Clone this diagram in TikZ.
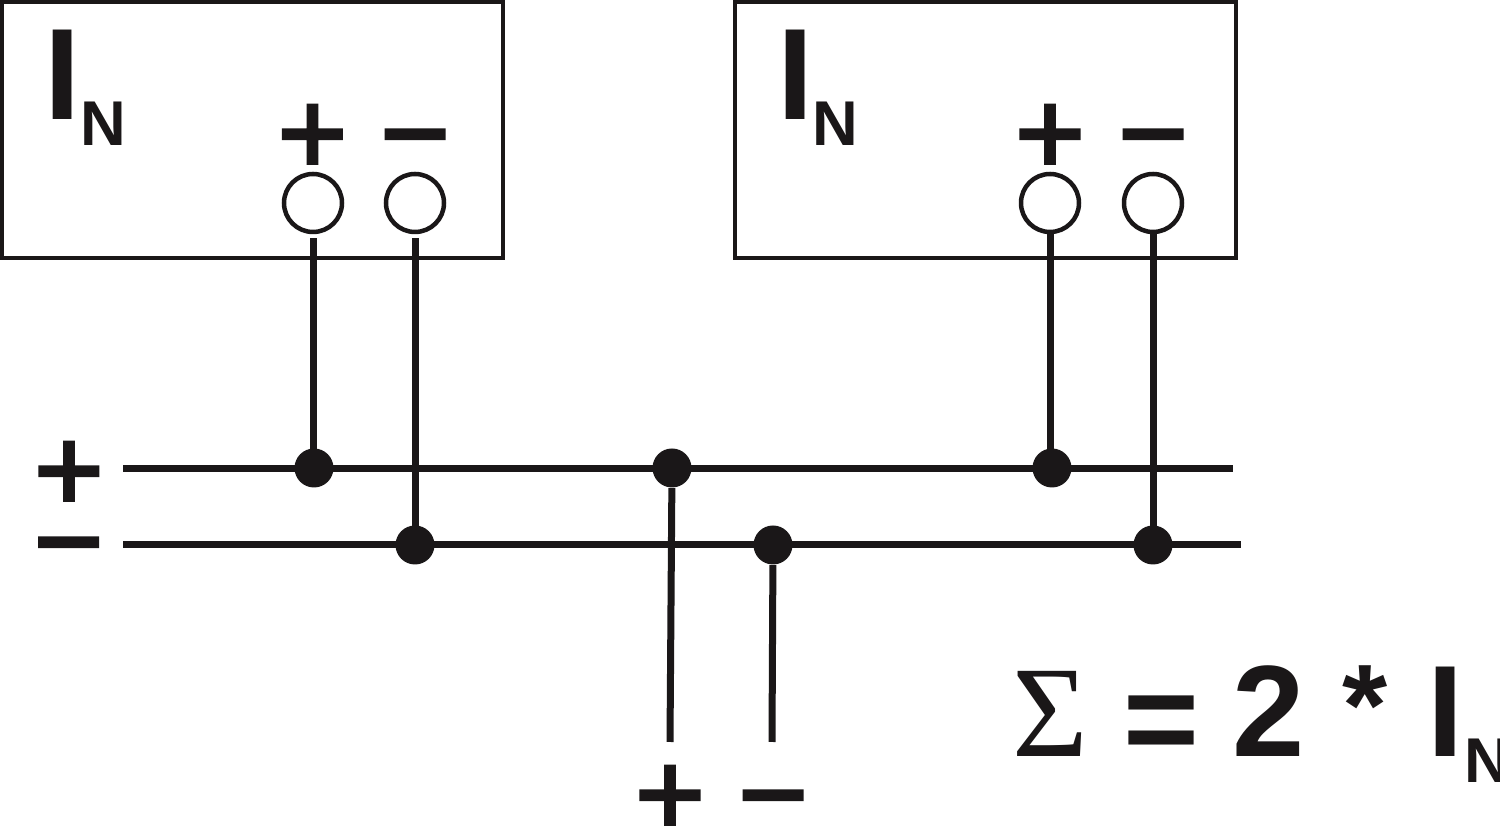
\documentclass[tikz,border=0pt]{standalone}
\usepackage{fontspec}
\setmainfont{Liberation Sans}
\newfontfamily\sigmafont{Liberation Serif}
\newfontfamily\polfont[FakeBold=2.5]{Liberation Sans}

\tikzset{
	geraet/.style={draw=schwarz,line width=0.04cm,minimum width=5.01cm,
		minimum height=2.56cm,inner sep=0},
	klemme/.style={circle,draw=schwarz,fill=white,line width=0.045cm,
		minimum size=0.58cm,inner sep=0},
	punkt/.style={circle,fill=schwarz,minimum size=0.39cm,inner sep=0},
	leitung/.style={draw=schwarz,line width=0.07cm},
	zeichen/.style={color=schwarz,inner sep=0,anchor=base,
		font=\fontsize{37}{37}\selectfont\bfseries},
	pol/.style={color=schwarz,inner sep=0,anchor=base,
		font=\fontsize{34}{34}\selectfont\polfont},
	klein/.style={color=schwarz,inner sep=0,anchor=base,
		font=\fontsize{18}{18}\selectfont\bfseries},
}
\definecolor{schwarz}{HTML}{1A1718}

\begin{document}
\begin{tikzpicture}

\def\bogenbreite{15.0}
\def\bogenhoehe{8.4}

\clip (0,0) rectangle ({\bogenbreite},{\bogenhoehe});
\useasboundingbox (0,0) rectangle ({\bogenbreite},{\bogenhoehe});

% geraete
\node (geraeta) at (2.525,7.1) [geraet] {};
\node (geraetb) at (9.855,7.1) [geraet] {};

\node (stroma) at (0.63,7.2) [zeichen] {I};
\node (indexa) at (1.03,6.94) [klein] {N};
\node (stromb) at (7.955,7.2) [zeichen] {I};
\node (indexb) at (8.35,6.94) [klein] {N};

\node (plusa) at (3.125,6.66) [pol] {+};
\node (minusa) at (4.15,6.66) [pol] {−};
\node (plusb) at (10.50,6.66) [pol] {+};
\node (minusb) at (11.53,6.66) [pol] {−};

% klemmen
\node (klemmeaa) at (3.13,6.37) [klemme] {};
\node (klemmeab) at (4.15,6.37) [klemme] {};
\node (klemmeba) at (10.50,6.37) [klemme] {};
\node (klemmebb) at (11.53,6.37) [klemme] {};

% sammelschienen
\node (plusl) at (0.69,3.29) [pol] {+};
\node (minusl) at (0.685,2.58) [pol] {−};

\coordinate (schienepa) at (1.23,3.715);
\coordinate (schienepb) at (12.33,3.715);
\coordinate (schienema) at (1.23,2.955);
\coordinate (schienemb) at (12.41,2.955);

\draw[leitung] (schienepa) -- (schienepb);
\draw[leitung] (schienema) -- (schienemb);

\node (punktaa) at (3.14,3.72) [punkt] {};
\node (punktab) at (4.15,2.95) [punkt] {};
\node (punktp) at (6.72,3.72) [punkt] {};
\node (punktm) at (7.73,2.95) [punkt] {};
\node (punktba) at (10.52,3.72) [punkt] {};
\node (punktbb) at (11.53,2.95) [punkt] {};

% zuleitungen
\draw[leitung,shorten <=0.04cm] (klemmeaa.south) -- (klemmeaa.south |- punktaa);
\draw[leitung,shorten <=0.04cm] (klemmeab.south) -- (klemmeab.south |- punktab);
\draw[leitung] (klemmeba.south) -- (klemmeba.south |- punktba);
\draw[leitung] (klemmebb.south) -- (klemmebb.south |- punktbb);

% ausgang
\coordinate (ausgangp) at (6.70,0.98);
\coordinate (ausgangm) at (7.72,0.98);

\draw[leitung] (punktp) -- (ausgangp);
\draw[leitung] (punktm) -- (ausgangm);

\node (plusu) at (6.70,0.05) [pol] {+};
\node (minusu) at (7.73,0.05) [pol] {−};

% summe
\node (summe) at (10.50,0.83) [color=schwarz,inner sep=0,anchor=base,
	font=\fontsize{37}{37}\selectfont\sigmafont] {Σ};
\node (gleich) at (11.61,0.76) [zeichen] {=};
\node (zwei) at (12.69,0.83) [zeichen] {2};
\node (stern) at (13.655,0.94) [zeichen,font=\fontsize{33}{33}\selectfont\bfseries] {*};
\node (stromc) at (14.455,0.83) [zeichen] {I};
\node (indexc) at (14.87,0.57) [klein] {N};

\end{tikzpicture}
\end{document}
